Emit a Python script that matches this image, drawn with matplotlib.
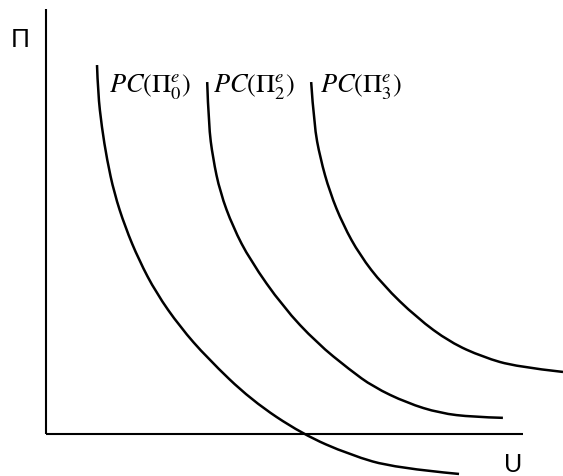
import matplotlib
matplotlib.use('Agg')
import numpy as np
import matplotlib.pyplot as plt
from matplotlib.path import Path
from matplotlib.patches import PathPatch

plt.rcParams['mathtext.fontset'] = 'stix'

# Phillips curves (both axes run 0..10)
pc0_u = [1.07, 1.09, 1.17, 1.28, 1.43, 1.66, 1.95, 2.31, 2.81, 3.38, 4.30, 5.37, 6.37, 7.32, 8.66]
pc0_p = [8.68, 8.02, 7.22, 6.45, 5.67, 4.87, 4.09, 3.32, 2.52, 1.79, 0.80, 0.00, -0.49, -0.80, -0.94]

pc2_u = [3.38, 3.41, 3.50, 3.65, 3.92, 4.28, 4.97, 5.68, 6.37, 6.86, 7.57, 8.26, 8.95, 9.58]
pc2_p = [8.28, 7.27, 6.49, 5.69, 4.87, 4.09, 2.99, 2.14, 1.51, 1.11, 0.73, 0.49, 0.40, 0.38]

pc3_u = [5.56, 5.62, 5.75, 5.95, 6.23, 6.58, 7.06, 7.78, 8.47, 9.16, 9.87, 10.84]
pc3_p = [8.28, 7.27, 6.49, 5.69, 4.92, 4.21, 3.51, 2.73, 2.16, 1.81, 1.58, 1.46]

curve_labels = [r'$PC(\Pi_0^e)$', r'$PC(\Pi_2^e)$', r'$PC(\Pi_3^e)$']
label_u = [1.32, 3.50, 5.74]
label_p = 8.02


def smooth_path(u, p):
    # quadratic bezier chain: read points act as control points
    pts = np.column_stack([u, p])
    verts = [pts[0]]
    codes = [Path.MOVETO]
    for i in range(1, len(pts) - 1):
        end = pts[-1] if i == len(pts) - 2 else (pts[i] + pts[i + 1]) / 2
        verts += [pts[i], end]
        codes += [Path.CURVE3, Path.CURVE3]
    return Path(verts, codes)


fig = plt.figure(figsize=(5.63, 4.76), dpi=100)
ax = fig.add_axes([0, 0, 1, 1])
ax.set_xlim(-0.964, 10.84)
ax.set_ylim(-0.988, 10.21)
ax.axis('off')

# axes
ax.plot([0, 10], [0, 0], color='black', lw=1.5, solid_capstyle='butt')
ax.plot([0, 0], [0, 10], color='black', lw=1.5, solid_capstyle='butt')

for u, p in [(pc0_u, pc0_p), (pc2_u, pc2_p), (pc3_u, pc3_p)]:
    ax.add_patch(PathPatch(smooth_path(u, p), facecolor='none', edgecolor='black',
                           lw=1.8, capstyle='butt', joinstyle='round'))

for lab, x in zip(curve_labels, label_u):
    ax.text(x, label_p, lab, fontsize=19, va='baseline', ha='left')

ax.text(-0.545, 9.27, 'Π', fontsize=18, family='Lato', ha='center', va='center')
ax.text(9.79, -0.71, 'U', fontsize=18, family='Lato', ha='center', va='center')

fig.savefig('out.png', dpi=100)
